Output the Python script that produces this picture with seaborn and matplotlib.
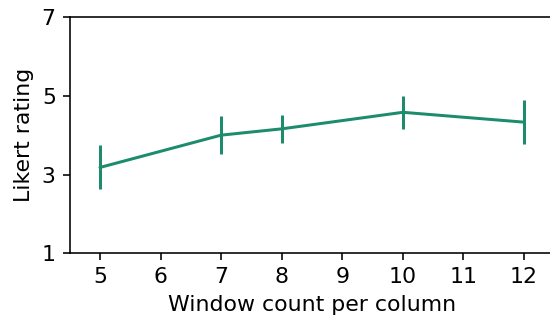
import matplotlib
matplotlib.use("Agg")
import matplotlib.pyplot as plt
import seaborn as sns

window_counts = [5, 7, 8, 10, 12]
mean_rating = [3.18, 4.00, 4.16, 4.58, 4.33]
rating_err = [0.56, 0.48, 0.36, 0.42, 0.55]

line_color = "#1c8c6c"

sns.set_style("ticks", {"axes.edgecolor": "black", "text.color": "black",
                        "xtick.color": "black", "ytick.color": "black",
                        "axes.labelcolor": "black"})
plt.rcParams['font.family'] = ['DejaVu Sans']

fig = plt.figure(figsize=(550 / 144, 320 / 144), dpi=144)
ax = fig.add_axes([69.7 / 550, 66.7 / 320, 484.6 / 550, 236.3 / 320])

sns.lineplot(x=window_counts, y=mean_rating, color=line_color,
             linewidth=1.5, ax=ax)
ax.errorbar(window_counts, mean_rating, yerr=rating_err, fmt="none",
            ecolor=line_color, elinewidth=1.5, capsize=0)

ax.set_xlim(4.5, 12.5)
ax.set_ylim(1, 7)
ax.set_xticks(range(5, 13))
ax.set_yticks([1, 3, 5, 7])
ax.tick_params(labelsize=11, width=0.8, length=3.5)
for side in ["left", "bottom", "top", "right"]:
    ax.spines[side].set_linewidth(0.8)
ax.set_xlabel("Window count per column", fontsize=11)
ax.set_ylabel("Likert rating", fontsize=11)

fig.savefig("out.png", dpi=144)
